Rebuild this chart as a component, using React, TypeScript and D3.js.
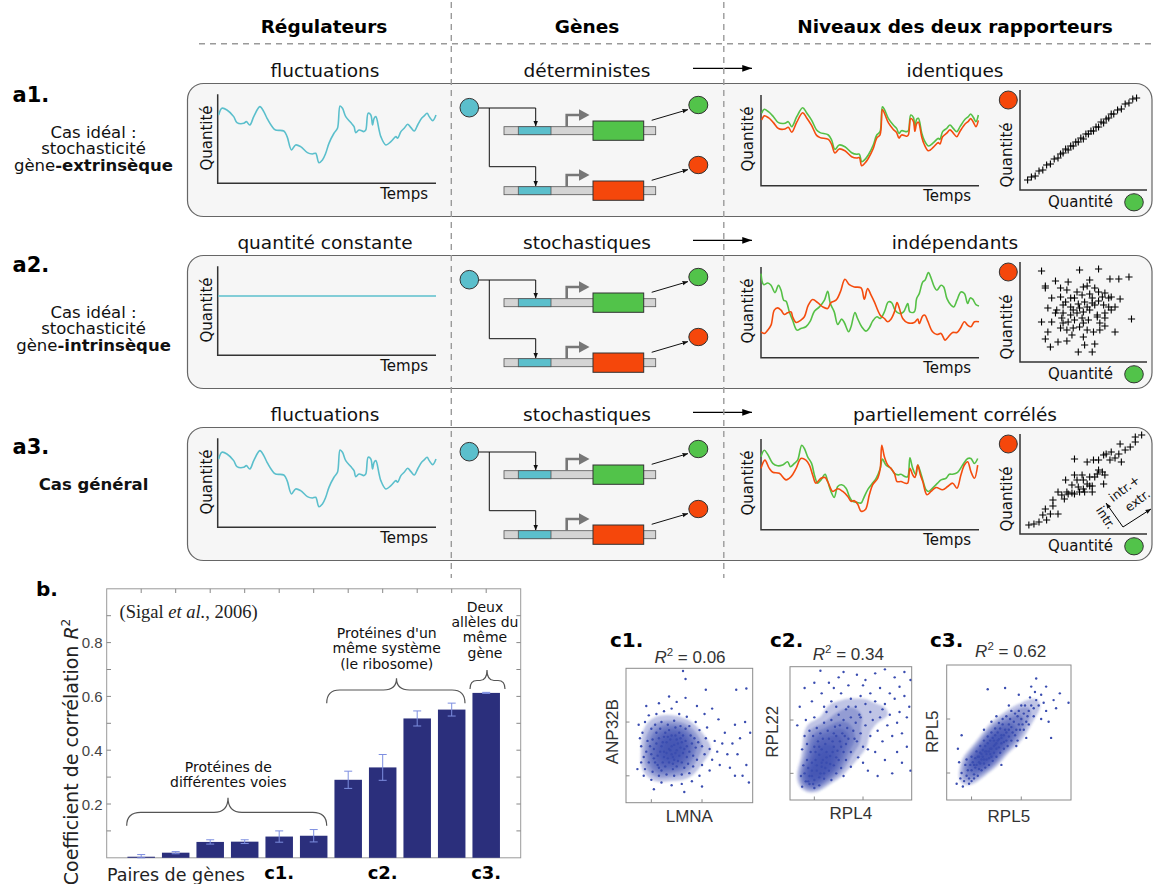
import React from 'react';
import * as d3 from 'd3';

// ---------------- DATA ----------------
const headers = ['Régulateurs', 'Gènes', 'Niveaux des deux rapporteurs'];
const subtitles = [
  ['fluctuations', 'déterministes', 'identiques'],
  ['quantité constante', 'stochastiques', 'indépendants'],
  ['fluctuations', 'stochastiques', 'partiellement corrélés'],
];
const rowLabels = ['a1.', 'a2.', 'a3.'];

// regulator (cyan) fluctuating quantity vs time  [t, q]
const regFluct = [[0.3,76.8],[1.8,84.3],[4.1,82.4],[7.2,74.9],[8.7,68.2],[11.8,67.4],[13,69.3],[14.6,65.5],[16.4,74.9],[19.2,86.1],[21,80.5],[22.5,73],[24.8,63.7],[26.4,59.9],[30.2,58.8],[31.7,52.4],[33.7,37.5],[35.6,43.1],[37.9,41.2],[41,34.5],[43.3,33],[44.8,33.7],[46.3,23.2],[47.9,26.2],[49.4,33.7],[50.9,44.9],[53.2,56.2],[54.8,61.8],[56,86.9],[57.1,84.3],[58.6,74.9],[60.9,68.2],[62.4,63.7],[63.2,56.9],[64.7,59.9],[67,58.1],[67.8,59.9],[68.9,78.7],[70.1,76.8],[70.9,65.5],[71.6,73],[72.4,74.9],[73.9,59.9],[74.7,52.4],[77,43.1],[79.3,46.8],[81.6,52.4],[82.4,50.6],[83.9,58.1],[85.4,61.8],[87,66.3],[88.5,62.5],[90,58.8],[91.6,65.5],[93.4,73],[94.6,75.7],[95.9,78.7],[96.9,74.9],[98.5,70.4],[100,76.8]];
const regConstant = [[0,66.6],[100,66.6]];

const a1Green = [[0.3,79.8],[1.5,84.2],[3.4,81.6],[5.7,76.1],[8,69.5],[11,68.8],[12.5,70.6],[14.1,65.1],[16.4,76.1],[19.1,86],[20.9,80.5],[23.2,72.4],[25.5,61.4],[27.1,58.5],[30.9,55.9],[32.4,50.4],[33.9,40.1],[35.9,44.9],[38.5,43],[41.6,36.4],[43.9,34.6],[45.1,34.9],[46.2,26.5],[47.7,29],[49.2,33.8],[51.5,44.9],[53.1,55.9],[54.6,59.6],[55.7,87.1],[56.6,84.2],[58.4,74.3],[60.7,66.9],[62.2,63.2],[63.3,57.7],[64.5,60.7],[66.8,59.6],[67.6,60.7],[68.7,77.9],[69.9,75.4],[70.6,65.1],[71.4,73.2],[72.2,74.3],[73.7,58.5],[74.8,50.4],[76.8,43.8],[79.1,47.4],[81.3,52.2],[82.1,51.1],[83.3,59.6],[85.2,63.2],[86.7,66.9],[88.2,63.2],[89.8,59.6],[91.3,65.1],[93.6,73.2],[95.1,76.1],[96.2,79],[97.4,75.4],[98.6,70.6],[99.7,77.9]];
const a1Red = [[0.3,72.4],[1.5,77],[3.4,75],[5.7,69.5],[8,63],[11,62.5],[12.5,64.5],[14.1,59],[16.4,70],[19.1,80.5],[20.9,75],[23.2,66.5],[25.5,55.5],[27.1,53],[30.9,51],[32.4,45.5],[33.9,36],[35.9,40.5],[38.5,38.5],[41.6,32],[43.9,30.5],[45.1,31],[46.2,22],[47.7,25],[49.2,30],[51.5,41],[53.1,52.5],[54.6,56],[55.7,84],[56.6,80],[58.4,69.5],[60.7,62],[62.2,58.5],[63.3,52.5],[64.5,56],[66.8,54.5],[67.6,56],[68.7,74],[69.9,71],[70.6,60],[71.4,68.5],[72.2,70],[73.7,54],[74.8,46],[76.8,38.5],[79.1,42.5],[81.3,47.5],[82.1,46],[83.3,54],[85.2,58],[86.7,61.5],[88.2,58],[89.8,54],[91.3,60],[93.6,68],[95.1,71],[96.2,74],[97.4,70],[98.6,65],[99.7,72]];

const a2Green = [[0,92.7],[1.2,80.6],[3.1,82.4],[4.6,79.9],[6.4,71.8],[8,79.9],[9.2,74.4],[10.4,63.4],[11.5,62.3],[13,50.5],[14.5,41.4],[16.5,30.4],[18.3,32.2],[20.6,34.1],[22.6,40.3],[24.5,51.3],[26.8,56],[29.1,63.4],[30.6,73.3],[31.8,59.7],[33.6,50.5],[35.2,36.6],[37,42.5],[38.2,38.8],[40.2,28.6],[41.3,34.1],[43.1,49.8],[44.3,43.2],[46.2,34.1],[48.2,29.3],[49.7,33],[51.2,40.3],[53.2,45.1],[54.7,43.2],[56.6,50.5],[58.4,61.5],[59.9,60.8],[61.5,52.4],[63.5,48.7],[65.4,50.5],[67.3,59.7],[68.3,50.5],[70.3,50.5],[71.4,65.2],[72.6,70.7],[74.2,83.5],[75.2,85.3],[76.8,93.8],[78,87.9],[79.5,78],[80.7,74.4],[82.6,79.9],[83.8,78],[85.3,65.2],[87.2,57.9],[88.4,56],[89.9,63.4],[91.7,72.5],[93.3,70.7],[94.8,59.7],[96,65.9],[97.1,64.5],[98.6,58.6],[100,57.1]];
const a2Red = [[0,28.6],[1.5,26.7],[3.1,30.4],[4.6,35.9],[6.1,52.4],[7.6,54.9],[9.2,52.4],[10.7,47.6],[12.2,49.5],[13.8,50.5],[14.5,45.1],[16.1,38.8],[18.3,41.4],[19.9,45.1],[21.7,57.9],[23.7,64.1],[26,60.8],[28.3,56],[30.6,54.2],[32.1,60.8],[34.4,63.4],[36.4,72.5],[38.5,86.4],[40.5,80.6],[42.8,78],[45.9,76.9],[47.4,64.5],[48.9,76.2],[50.5,68.9],[52,61.5],[54.7,46.9],[56.6,43.2],[58.1,39.6],[59.6,42.5],[61.2,50.5],[62.4,60.8],[63.5,54.2],[65,43.2],[67.3,38.5],[70.3,38.8],[71.9,42.5],[72.6,37.7],[74.2,46.2],[75.2,46.9],[76.5,40.3],[78.7,28.6],[80.7,25.6],[82.6,26.7],[84.4,19.4],[85.6,22],[87.9,27.8],[89.9,27.8],[91.4,32.2],[93.3,39.6],[94.8,35.9],[96.3,34.1],[97.9,39.6],[100,39.6]];

const a3Green = [[0,80.4],[1.5,87.6],[3.1,82.9],[5.4,73.1],[7.6,70.5],[9.9,71.3],[12.2,74.9],[13.5,69.5],[15.3,73.1],[16.8,76.7],[18.7,93.1],[19.9,89.5],[21.4,80.4],[23.2,73.1],[24.5,60.4],[26,51.3],[27.5,54.9],[29.4,61.1],[30.6,53.1],[32.4,40.4],[33.6,35.6],[35.2,47.6],[37,49.5],[39,45.8],[40.5,36.7],[42,31.3],[44,30.2],[45.9,29.5],[47.1,34.9],[48.9,44],[50.8,50.2],[52.8,56.7],[54.7,67.6],[55.7,77.8],[57.3,71.3],[59.6,67.6],[61.2,62.2],[63,60.4],[64.2,61.1],[66.1,58.5],[67.3,58.5],[68.3,79.3],[69.6,67.6],[71.1,60.4],[71.9,71.3],[73.1,64],[74.2,54.9],[75.7,44],[76.8,42.2],[78.7,45.8],[81,51.3],[82.6,54.9],[84.9,56.7],[86.4,61.1],[87.9,61.1],[90.2,63.3],[92.5,71.3],[94.8,78.5],[96.3,78.5],[97.9,73.1],[99.4,78.5]];
const a3Red = [[0,67.6],[1.8,76.7],[3.8,67.6],[5.4,63.3],[8.4,62.2],[11.5,54.9],[13.8,58.5],[16.1,67.6],[18.3,78.5],[20.6,76.7],[22.2,71.3],[23.7,60.4],[25.2,51.3],[27.5,56.7],[29.4,57.5],[30.6,53.1],[32.9,42.2],[35.2,45.1],[37.5,42.2],[39.8,36.7],[41.3,31.3],[42.8,32],[44.3,28.4],[45.9,20.4],[47.9,22.2],[49.7,38.5],[51.2,49.5],[53.5,56.7],[54.7,67.6],[55.4,93.1],[56.6,80.4],[58.1,71.3],[59.6,67.6],[61.2,62.2],[62.4,53.1],[64.2,53.1],[66.1,51.3],[67.3,51.3],[68.3,67.6],[69.6,60.4],[70.6,57.5],[71.9,71.3],[73.1,60.4],[74.2,53.1],[76.1,38.5],[78,42.2],[80.3,46.5],[83.3,44],[85.6,47.6],[87.9,51.3],[89.9,45.8],[91.7,60.4],[93.3,71.3],[94.8,74.9],[96.3,64],[97.9,56.7],[99.4,71.3]];

// reporter scatter (+ markers) [green quantity, red quantity]
const a1Cross = [[6,10],[9,13],[12,14],[15,19],[18,20],[21,25],[24,26],[27,31],[30,32],[32,36],[34,37],[36,41],[38,40],[40,44],[42,44],[44,48],[46,48],[48,52],[50,51],[52,56],[54,56],[56,59],[58,59],[60,63],[62,63],[64,68],[66,67],[68,71],[70,72],[72,76],[74,76],[77,80],[80,81],[83,86],[86,87],[89,91],[92,92]];
const a2Cross = [[17,91],[47,92],[62,93],[20,76],[20,74],[28,81],[38,80],[32,74],[37,72],[50,75],[55,82],[53,76],[59,74],[71,83],[78,83],[86,85],[25,64],[32,65],[40,64],[43,64],[49,67],[55,68],[62,70],[67,69],[72,65],[79,63],[22,54],[29,52],[34,57],[40,55],[46,58],[51,60],[57,64],[62,61],[66,57],[70,55],[75,55],[34,49],[40,47],[45,49],[50,50],[55,52],[61,47],[67,49],[72,52],[17,40],[25,40],[33,44],[38,40],[43,42],[49,44],[54,42],[61,45],[67,44],[88,43],[22,30],[32,34],[37,32],[42,34],[47,35],[53,32],[58,30],[63,32],[67,36],[75,30],[20,23],[30,20],[37,21],[50,25],[24,15],[51,17],[59,18],[46,10],[57,10],[28,49],[36,60],[42,52],[47,54],[53,55],[59,57],[65,65],[45,70],[57,59],[50,39],[41,27],[34,39],[63,39],[70,64]];
const a3Cross = [[7,9],[11,10],[15,12],[21,14],[18,19],[24,20],[30,20],[20,25],[26,28],[26,34],[30,42],[35,35],[37,42],[38,40],[41,41],[43,40],[47,42],[51,42],[57,42],[36,54],[43,59],[45,54],[49,59],[50,54],[53,50],[55,48],[46,47],[50,45],[59,57],[65,62],[66,50],[62,64],[67,59],[43,75],[53,72],[58,74],[62,74],[66,79],[68,80],[71,74],[75,76],[78,80],[80,72],[72,82],[83,84],[87,87],[79,90],[91,92],[91,97],[96,99],[57,48],[61,60],[55,57],[41,49],[33,39]];

// panel b: bars
const barValues = [0.004, 0.019, 0.059, 0.060, 0.079, 0.082, 0.290, 0.336, 0.518, 0.551, 0.613];
const barErrors = [0.008, 0.004, 0.008, 0.007, 0.021, 0.023, 0.032, 0.048, 0.028, 0.024, 0.002];
const yTickLabels = [0.2, 0.4, 0.6, 0.8];
const yMinorTicks = [0.1, 0.2, 0.3, 0.4, 0.5, 0.6, 0.7, 0.8, 0.9];
const groupLabels = [['c1.', 5], ['c2.', 8], ['c3.', 11]];

// panel c: single-cell scatter clouds (normalised 0..100)
const c1Points = [[22,40],[25,35],[28,42],[30,38],[32,45],[34,40],[36,36],[38,43],[40,39],[42,35],[26,48],[29,30],[31,52],[33,33],[35,47],[37,29],[39,50],[41,44],[43,41],[45,37],[24,44],[27,38],[30,34],[33,49],[36,42],[38,32],[40,47],[44,45],[46,40],[48,34],[20,36],[23,30],[26,26],[29,45],[32,37],[35,39],[37,34],[39,37],[41,31],[43,48],[21,47],[24,52],[27,55],[30,49],[34,54],[36,50],[39,56],[42,52],[45,50],[47,46],[19,42],[22,33],[25,28],[28,24],[31,27],[34,30],[37,25],[40,27],[44,30],[48,42],[50,38],[52,44],[49,29],[46,26],[51,50],[53,35],[55,41],[18,30],[16,38],[17,46],[20,55],[23,58],[28,60],[33,58],[38,61],[43,57],[47,55],[50,57],[54,48],[57,45],[56,32],[53,27],[50,22],[44,21],[38,20],[32,21],[26,20],[21,23],[15,25],[14,34],[12,42],[13,52],[15,60],[18,65],[24,66],[30,68],[36,70],[42,66],[48,64],[55,60],[58,54],[60,42],[62,36],[60,28],[58,20],[52,16],[44,14],[36,13],[28,15],[20,17],[14,20],[12,30],[11,48],[16,72],[26,74],[40,75],[47,78],[34,79],[63,48],[66,40],[64,56],[68,32],[70,46],[72,38],[66,24],[74,28],[76,44],[78,52],[80,36],[82,26],[84,44],[86,58],[88,36],[90,48],[92,20],[95,28],[97,15],[94,60],[98,52],[86,20],[73,62],[68,70],[56,72],[62,66],[10,58],[9,25],[22,10],[46,8],[60,12],[45,98],[47,92],[63,84],[87,84],[95,85]];
const c2Points = [[10,10],[13,14],[16,12],[18,18],[20,15],[22,22],[24,17],[26,25],[28,20],[30,28],[12,20],[15,24],[18,28],[21,30],[24,34],[27,30],[30,36],[33,33],[36,40],[39,37],[14,30],[17,36],[20,40],[23,44],[26,38],[29,42],[32,46],[35,44],[38,48],[41,44],[11,26],[14,42],[19,48],[25,50],[31,52],[37,55],[43,50],[46,42],[44,36],[40,30],[36,26],[32,22],[28,16],[24,11],[20,9],[34,15],[38,20],[42,24],[46,30],[50,36],[48,46],[52,52],[55,44],[58,50],[54,58],[50,62],[44,60],[40,64],[34,60],[28,58],[22,54],[16,52],[12,48],[10,38],[9,18],[42,40],[35,36],[30,32],[26,28],[22,26],[18,22],[16,18],[33,27],[38,32],[45,48],[27,46],[21,36],[15,14],[44,18],[50,25],[56,32],[60,40],[62,56],[57,64],[48,70],[38,70],[30,66],[20,62],[13,60],[60,28],[66,48],[64,38],[24,40],[36,50],[41,56],[47,54],[53,46],[29,24],[25,20],[19,12],[12,84],[25,97],[18,74],[26,80],[32,88],[40,92],[48,86],[55,94],[62,90],[70,95],[78,98],[86,92],[94,96],[99,90],[90,85],[82,80],[74,84],[66,80],[58,78],[50,76],[42,80],[34,74],[28,70],[46,68],[54,70],[62,72],[70,74],[78,72],[86,76],[94,78],[98,70],[90,66],[82,64],[74,62],[68,60],[72,52],[80,56],[88,58],[96,62],[92,50],[84,48],[76,44],[70,36],[78,30],[88,36],[96,40],[99,22],[92,28],[84,20],[64,22],[72,18],[60,86],[20,88],[8,70],[6,56],[44,96],[36,84],[66,66],[58,62],[76,68]];
const c3Points = [[14,14],[16,18],[18,16],[20,22],[22,19],[24,26],[26,23],[28,30],[30,27],[32,34],[34,31],[36,38],[38,35],[40,42],[42,39],[44,46],[46,43],[48,50],[50,47],[52,54],[17,22],[19,26],[21,28],[23,31],[25,32],[27,35],[29,37],[31,40],[33,42],[35,44],[37,46],[39,48],[41,50],[43,53],[45,56],[20,14],[22,16],[25,18],[28,22],[31,24],[34,26],[37,29],[40,32],[43,35],[46,38],[49,40],[52,44],[55,48],[54,58],[56,52],[58,56],[60,60],[57,62],[62,64],[64,58],[66,66],[68,70],[63,70],[15,26],[12,20],[11,16],[13,10],[18,12],[24,36],[27,40],[30,44],[33,47],[36,50],[39,53],[42,57],[45,60],[48,62],[51,60],[26,28],[29,32],[32,36],[35,38],[38,40],[41,44],[44,48],[47,52],[50,56],[53,50],[23,24],[28,34],[34,36],[36,32],[40,38],[30,30],[46,48],[42,45],[38,44],[32,30],[26,32],[22,26],[48,44],[50,52],[35,34],[39,41],[44,42],[31,36],[27,27],[59,52],[61,56],[16,30],[20,32],[58,66],[65,62],[70,68],[72,74],[67,76],[60,70],[55,64],[52,66],[74,70],[76,78],[71,80],[78,72],[80,66],[62,52],[66,56],[70,62],[57,44],[72,90],[33,82],[47,83],[91,79],[98,72],[84,46],[12,48],[9,38],[80,84],[86,74],[68,84],[58,78],[76,60],[82,58],[64,46],[10,28],[8,12],[40,62],[36,58],[88,68],[50,70],[30,52],[44,26],[56,40]];
const cPanelInfo = [
  { label: 'c1.', r2: '0.06', xName: 'LMNA', yName: 'ANP32B' },
  { label: 'c2.', r2: '0.34', xName: 'RPL4', yName: 'RPL22' },
  { label: 'c3.', r2: '0.62', xName: 'RPL5', yName: 'RPL5' },
];

// ---------------- STYLE ----------------
const SANS = "'DejaVu Sans', 'Noto Sans', sans-serif";
const HELV = "'Liberation Sans', Arial, sans-serif";
const SERIF = "'Liberation Serif', 'Times New Roman', serif";
const CYAN = '#5bbfcc';
const GREEN = '#52c34a';
const RED = '#f5470b';
const LGREEN = '#55c046';
const LRED = '#f44c0e';
const NAVY = '#2b2f7c';
const DOT = '#3a4db0';
const DENSITY_LEVELS = [0.3, 0.4, 0.5, 0.6, 0.7, 0.8, 0.9];

type P = number[];

function crossPath(x: number, y: number, s = 3.6) {
  return `M${x - s},${y}h${2 * s}M${x},${y - s}v${2 * s}`;
}

function bracePath(x0: number, x1: number, tip: number, yEnd: number, yMid: number, yTip: number, r: number) {
  return `M${x0},${yEnd} Q${x0},${yMid} ${x0 + r},${yMid} L${tip - r},${yMid} Q${tip},${yMid} ${tip},${yTip} Q${tip},${yMid} ${tip + r},${yMid} L${x1 - r},${yMid} Q${x1},${yMid} ${x1},${yEnd}`;
}

function GeneDiagram() {
  return (
    <g>
      <circle cx={469.3} cy={107.7} r={9.3} fill={CYAN} stroke="#333" strokeWidth={1} />
      <path d="M478.6,108 H535.7 V126.5" fill="none" stroke="#111" strokeWidth={1} markerEnd="url(#arrS)" />
      <path d="M489.3,108 V166.7 H535.7 V186.5" fill="none" stroke="#111" strokeWidth={1} markerEnd="url(#arrS)" />
      {[0, 60].map((o) => (
        <g key={o} transform={`translate(0,${o})`}>
          <rect x={504} y={126.7} width={151.7} height={8} fill="#d4d4d4" stroke="#555" strokeWidth={0.8} />
          <rect x={518.3} y={126.7} width={32.7} height={8} fill={CYAN} stroke="#555" strokeWidth={0.8} />
          <rect x={593} y={121} width={50.7} height={19.3} fill={o ? RED : GREEN} stroke="#333" strokeWidth={1} />
          <path d="M566.7,126.7 V115 H580" fill="none" stroke="#777" strokeWidth={2.6} />
          <path d="M579,109.2 L589.5,115 L579,120.8 Z" fill="#777" />
          <path d="M651.7,120.3 L688,109.6" fill="none" stroke="#111" strokeWidth={1} markerEnd="url(#arrS)" />
          <ellipse cx={698.3} cy={105} rx={9.5} ry={8.7} fill={o ? RED : GREEN} stroke="#333" strokeWidth={1} />
        </g>
      ))}
    </g>
  );
}

export default function App() {
  const xL = d3.scaleLinear([0, 100], [218, 436]);
  const yL = d3.scaleLinear([0, 100], [183.3, 94.3]);
  const xR = d3.scaleLinear([0, 100], [761, 979]);
  const yR = d3.scaleLinear([0, 100], [185.7, 95]);
  const xS = d3.scaleLinear([0, 100], [1020, 1146.7]);
  const yS = d3.scaleLinear([0, 100], [190, 90]);
  const curve = d3.curveCatmullRom.alpha(0.5);
  const lineL = d3.line<P>().x((d) => xL(d[0])).y((d) => yL(d[1])).curve(curve);
  const lineR = d3.line<P>().x((d) => xR(d[0])).y((d) => yR(d[1])).curve(curve);

  const rows = [
    { dy: 0, reg: regFluct, green: a1Green, red: a1Red, cross: a1Cross, labelY: 102,
      desc: [{ y: 137.5, t: [['Cas idéal :', false]] }, { y: 154, t: [['stochasticité', false]] }, { y: 170.5, t: [['gène', false], ['-extrinsèque', true]] }] },
    { dy: 172, reg: regConstant, green: a2Green, red: a2Red, cross: a2Cross, labelY: 272,
      desc: [{ y: 317.5, t: [['Cas idéal :', false]] }, { y: 334, t: [['stochasticité', false]] }, { y: 350.5, t: [['gène', false], ['-intrinsèque', true]] }] },
    { dy: 344, reg: regFluct, green: a3Green, red: a3Red, cross: a3Cross, labelY: 454,
      desc: [{ y: 490, t: [['Cas général', true]] }] },
  ];

  // bar chart scales
  const xB = d3.scaleLinear([0, 12], [106.7, 520.7]);
  const yB = d3.scaleLinear([0, 1], [857.8, 588.8]);
  const barW = 27.5;

  // c panels
  const cFrames = [
    { x0: 626, x1: 752.7, y0: 668.3, y1: 802.7, lx: 610, rx: 690, rb: 662.7, yl: 618, xb: 821.7 },
    { x0: 790, x1: 911.7, y0: 666.7, y1: 800, lx: 770, rx: 848.3, rb: 660, yl: 778, xb: 819.3 },
    { x0: 946.7, x1: 1071, y0: 665, y1: 800, lx: 930, rx: 1010.7, rb: 657, yl: 937.5, xb: 822 },
  ];
  const cData = [c1Points, c2Points, c3Points];

  return (
    <svg width={1154} height={884} style={{ position: 'absolute', left: 0, top: 0, background: '#fff' }} fontFamily={SANS}>
      <defs>
        <marker id="arrS" viewBox="0 0 10 10" refX={10} refY={5} markerWidth={5.5} markerHeight={5.5} orient="auto">
          <path d="M0,1 L10,5 L0,9 Z" fill="#111" />
        </marker>
        <marker id="arrB" viewBox="0 0 10 10" refX={10} refY={5} markerWidth={7.5} markerHeight={7.5} orient="auto">
          <path d="M0,1.5 L10,5 L0,8.5 Z" fill="#000" />
        </marker>
        <filter id="soft" x="-10%" y="-10%" width="120%" height="120%">
          <feGaussianBlur stdDeviation="1" />
        </filter>
        {cFrames.map((f, i) => (
          <clipPath id={`cclip${i}`} key={i}>
            <rect x={f.x0} y={f.y0} width={f.x1 - f.x0} height={f.y1 - f.y0} />
          </clipPath>
        ))}
      </defs>

      {/* headers */}
      {headers.map((h, i) => (
        <text key={h} x={[324, 587, 955][i]} y={33} textAnchor="middle" fontWeight="bold" fontSize={18.5} fill="#000">{h}</text>
      ))}
      <line x1={199} x2={1152} y1={43.7} y2={43.7} stroke="#9a9a9a" strokeWidth={1.4} strokeDasharray="6,5" />

      {/* rows */}
      {rows.map((r, ri) => (
        <g key={ri}>
          <text x={12.5} y={r.labelY} fontWeight="bold" fontSize={21}>{rowLabels[ri]}</text>
          {r.desc.map((d, di) => (
            <text key={di} x={93.5} y={d.y} textAnchor="middle" fontSize={16.5} fill="#111">
              {d.t.map((p, pi) => (
                <tspan key={pi} fontWeight={p[1] ? 'bold' : 'normal'}>{p[0] as string}</tspan>
              ))}
            </text>
          ))}
          <g transform={`translate(0,${r.dy})`}>
            {subtitles[ri].map((s, si) => (
              <text key={si} x={[325, 587, 955][si]} y={76.5} textAnchor="middle" fontSize={18.5} fill="#111">{s}</text>
            ))}
            <line x1={693} x2={752} y1={68.3} y2={68.3} stroke="#000" strokeWidth={1.3} markerEnd="url(#arrB)" />
            <rect x={187.5} y={83.5} width={964.5} height={133} rx={16} fill="#f6f6f6" stroke="#666" strokeWidth={1.2} />

            {/* regulator plot */}
            <path d={`M217.7,94.3 V183.3 H436`} fill="none" stroke="#333" strokeWidth={1.5} />
            <path d={lineL(r.reg as P[]) || ''} fill="none" stroke={CYAN} strokeWidth={1.6} />
            <text transform="translate(212,138) rotate(-90)" textAnchor="middle" fontSize={15} fill="#111">Quantité</text>
            <text x={428} y={199} textAnchor="end" fontSize={15} fill="#111">Temps</text>

            {/* genes */}
            <GeneDiagram />

            {/* reporter levels */}
            <path d={`M761,95 V185.7 H979`} fill="none" stroke="#333" strokeWidth={1.5} />
            <path d={lineR(r.green as P[]) || ''} fill="none" stroke={LGREEN} strokeWidth={1.6} />
            <path d={lineR(r.red as P[]) || ''} fill="none" stroke={LRED} strokeWidth={1.6} />
            <text transform="translate(752.5,139) rotate(-90)" textAnchor="middle" fontSize={15} fill="#111">Quantité</text>
            <text x={971} y={201} textAnchor="end" fontSize={15} fill="#111">Temps</text>

            {/* scatter */}
            <path d={`M1020,90 V190 H1147`} fill="none" stroke="#333" strokeWidth={1.5} />
            {(r.cross as P[]).map((c, ci) => (
              <path key={ci} d={crossPath(xS(c[0]), yS(c[1]))} stroke="#000" strokeWidth={1.1} fill="none" />
            ))}
            <circle cx={1008.3} cy={100} r={9} fill={RED} stroke="#333" strokeWidth={1} />
            <text transform="translate(1012,155) rotate(-90)" textAnchor="middle" fontSize={15} fill="#111">Quantité</text>
            <text x={1080.5} y={207} textAnchor="middle" fontSize={15} fill="#111">Quantité</text>
            <ellipse cx={1134} cy={202.3} rx={9.3} ry={8.6} fill={GREEN} stroke="#333" strokeWidth={1} />
            {ri === 2 && (
              <g>
                <line x1={1123} x2={1106} y1={183} y2={159} stroke="#000" strokeWidth={1} markerEnd="url(#arrS)" />
                <line x1={1123} x2={1151} y1={183} y2={165} stroke="#000" strokeWidth={1} markerEnd="url(#arrS)" />
                <text transform="translate(1102,176) rotate(57)" textAnchor="middle" fontSize={12.5} fill="#111">intr.</text>
                <text transform="translate(1127,148) rotate(-37)" textAnchor="middle" fontSize={12.5} fill="#111">intr.+</text>
                <text transform="translate(1140,160) rotate(-37)" textAnchor="middle" fontSize={12.5} fill="#111">extr.</text>
              </g>
            )}
          </g>
        </g>
      ))}

      {/* vertical dashed separators */}
      {[451.3, 723.8].map((x) => (
        <line key={x} x1={x} x2={x} y1={2} y2={578} stroke="#9a9a9a" strokeWidth={1.4} strokeDasharray="6,5" />
      ))}

      {/* ---------- panel b ---------- */}
      <text x={36} y={596} fontWeight="bold" fontSize={20}>b.</text>
      <rect x={106.7} y={588.8} width={414} height={269} fill="#fff" stroke="#9a9a9a" strokeWidth={1} />
      {yMinorTicks.map((v) => (
        <g key={v}>
          <line x1={106.7} x2={111} y1={yB(v)} y2={yB(v)} stroke="#888" />
          <line x1={520.7} x2={516.4} y1={yB(v)} y2={yB(v)} stroke="#888" />
        </g>
      ))}
      {barValues.map((_, i) => (
        <line key={i} x1={xB(i + 1)} x2={xB(i + 1)} y1={588.8} y2={593} stroke="#888" />
      ))}
      {yTickLabels.map((v) => (
        <text key={v} x={102.5} y={yB(v) + 5.5} textAnchor="end" fontFamily={HELV} fontSize={15} fill="#444">{v.toFixed(1)}</text>
      ))}
      {barValues.map((v, i) => (
        <rect key={i} x={xB(i + 1) - barW / 2} y={yB(v)} width={barW} height={yB(0) - yB(v)} fill={NAVY} />
      ))}
      {barValues.map((v, i) => {
        const cx = xB(i + 1);
        const e = barErrors[i];
        return (
          <g key={i} stroke="#7d8ee0" strokeWidth={1}>
            <line x1={cx} x2={cx} y1={yB(v + e)} y2={yB(Math.max(0, v - e))} />
            <line x1={cx - 4} x2={cx + 4} y1={yB(v + e)} y2={yB(v + e)} />
            <line x1={cx - 4} x2={cx + 4} y1={yB(Math.max(0, v - e))} y2={yB(Math.max(0, v - e))} />
          </g>
        );
      })}
      <text x={119.5} y={617.5} fontFamily={SERIF} fontSize={18.5} fill="#222">(Sigal <tspan fontStyle="italic">et al.</tspan>, 2006)</text>
      <text transform="translate(78,752) rotate(-90)" textAnchor="middle" fontSize={19} fill="#222">
        Coefficient de corrélation <tspan fontStyle="italic">R</tspan><tspan fontSize={12} dy={-8}>2</tspan>
      </text>
      <path d={bracePath(126.7, 326.7, 228, 825.7, 812.3, 797.7, 14)} fill="none" stroke="#555" strokeWidth={1.2} />
      <path d={bracePath(326.7, 465, 396.5, 703.3, 690, 678.3, 13)} fill="none" stroke="#555" strokeWidth={1.2} />
      <path d={bracePath(470, 505, 487, 689, 680.5, 670, 7)} fill="none" stroke="#555" strokeWidth={1.2} />
      {['Protéines de', 'différentes voies'].map((t, i) => (
        <text key={t} x={228.3} y={771.5 + i * 15.5} textAnchor="middle" fontSize={14} fill="#111">{t}</text>
      ))}
      {["Protéines d'un", 'même système', '(le ribosome)'].map((t, i) => (
        <text key={t} x={386.7} y={637.5 + i * 15.5} textAnchor="middle" fontSize={14} fill="#111">{t}</text>
      ))}
      {['Deux', 'allèles du', 'même', 'gène'].map((t, i) => (
        <text key={t} x={485} y={612 + i * 15.2} textAnchor="middle" fontSize={14} fill="#111">{t}</text>
      ))}
      <text x={107} y={881} fontSize={17.5} fill="#222">Paires de gènes</text>
      {groupLabels.map(([t, idx]) => (
        <text key={t as string} x={xB(idx as number)} y={879} textAnchor="middle" fontWeight="bold" fontSize={18}>{t as string}</text>
      ))}

      {/* ---------- panels c ---------- */}
      {cFrames.map((f, i) => {
        const xs = d3.scaleLinear([0, 100], [f.x0, f.x1]);
        const ys = d3.scaleLinear([0, 100], [f.y1, f.y0]);
        const pts = cData[i] as P[];
        const w = f.x1 - f.x0, h = f.y1 - f.y0;
        const dens = (d3.contourDensity<P>()
          .x((d) => xs(d[0]) - f.x0)
          .y((d) => ys(d[1]) - f.y0)
          .size([Math.round(w), Math.round(h)])
          .bandwidth(6) as any).contours(pts);
        const maxD: number = dens.max;
        const contours = DENSITY_LEVELS.map((lv) => dens(lv * maxD));
        const geo = d3.geoPath();
        const info = cPanelInfo[i];
        return (
          <g key={i}>
            <text x={f.lx} y={646.7} fontWeight="bold" fontSize={20}>{info.label}</text>
            <text x={f.rx} y={f.rb} textAnchor="middle" fontFamily={HELV} fontSize={17} fill="#333">
              <tspan fontStyle="italic">R</tspan><tspan fontSize={11.5} dy={-7}>2</tspan><tspan dy={7}> = {info.r2}</tspan>
            </text>
            <rect x={f.x0} y={f.y0} width={w} height={h} fill="#fff" stroke="#8a8a8a" strokeWidth={1} />
            <g clipPath={`url(#cclip${i})`}>
              <g transform={`translate(${f.x0},${f.y0})`} filter="url(#soft)">
                {contours.map((c: any, ci: number) => (
                  <path key={ci} d={geo(c) || ''} fill={DOT} fillOpacity={0.33} />
                ))}
              </g>
              {pts.map((p, pi) => (
                <circle key={pi} cx={xs(p[0])} cy={ys(p[1])} r={1.2} fill={DOT} />
              ))}
            </g>
            {[20, 60].map((v) => (
              <g key={v} stroke="#8a8a8a">
                <line x1={xs(v)} x2={xs(v)} y1={f.y1} y2={f.y1 - 3.5} />
                <line x1={f.x0} x2={f.x0 + 3.5} y1={ys(v)} y2={ys(v)} />
              </g>
            ))}
            <text transform={`translate(${f.yl},731.7) rotate(-90)`} textAnchor="middle" fontFamily={HELV} fontSize={17} fill="#333">{info.yName}</text>
            <text x={(f.x0 + f.x1) / 2} y={f.xb} textAnchor="middle" fontFamily={HELV} fontSize={17} fill="#333">{info.xName}</text>
          </g>
        );
      })}
    </svg>
  );
}
